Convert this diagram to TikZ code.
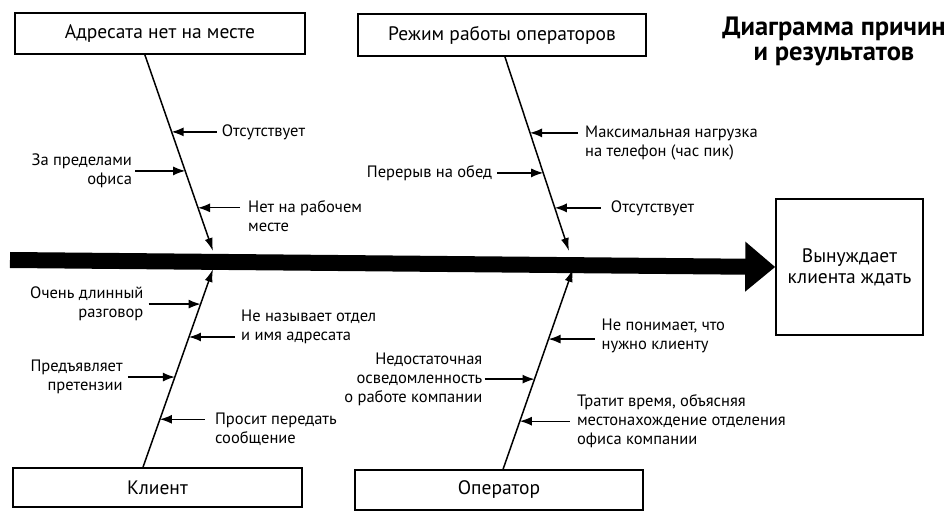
\documentclass[tikz,border=0pt]{standalone}
\usepackage{fontspec}
\setmainfont{PT Sans}
\usetikzlibrary{arrows.meta,calc}
\begin{document}
\begin{tikzpicture}[x=1pt,y=-1pt,
  catbox/.style={draw, line width=1.5pt, inner sep=0pt, font=\fontsize{19.5}{21}\selectfont},
  cause/.style={inner sep=0pt, font=\fontsize{16.5}{19}\selectfont},
  lcause/.style={cause, align=right},
  rcause/.style={cause, align=left},
  carrow/.style={line width=1.3pt, -{Latex[length=12pt,width=9pt]}},
  spine/.style={line width=1.5pt, -{Latex[length=13pt,width=8pt]}},
  mainbar/.style={line width=16pt, -{Triangle[length=30pt,width=48pt]}}]
\useasboundingbox[fill=white] (0,0) rectangle (951,513);

% title
\node[font=\bfseries\fontsize{26.5}{25}\selectfont, align=center] (title) at (834,41) {Диаграмма причин\\и результатов};

% category boxes
\node[catbox, minimum width=290pt, minimum height=41pt] (adr) at (160,33.5) {Адресата нет на месте};
\node[catbox, minimum width=288pt, minimum height=42pt] (rej) at (502,35) {Режим работы операторов};
\node[catbox, minimum width=289pt, minimum height=39pt] (kli) at (157.5,487.5) {Клиент};
\node[catbox, minimum width=288pt, minimum height=40pt] (opr) at (499,490) {Оператор};

% result box
\node[catbox, minimum width=147pt, minimum height=136pt, align=center] (res) at (849.5,267) {Вынуждает\\клиента ждать};

% main bar
\coordinate (barstart) at (10,260);
\draw[mainbar] (barstart) -- (res.west);

% spines
\coordinate (s1) at ($(adr.south west)!0.448!(adr.south east)$);
\coordinate (e1) at (213,251);
\coordinate (s2) at ($(rej.south west)!0.51!(rej.south east)$);
\coordinate (e2) at (569,251);
\coordinate (s3) at ($(kli.north west)!0.45!(kli.north east)$);
\coordinate (e3) at (213,269);
\coordinate (s4) at ($(opr.north west)!0.514!(opr.north east)$);
\coordinate (e4) at (573,269);
\draw[spine] (s1) -- (e1);
\draw[spine] (s2) -- (e2);
\draw[spine] (s3) -- (e3);
\draw[spine] (s4) -- (e4);

% --- causes of "Адресата нет на месте"
\coordinate (p11) at ($(s1)!0.393!(e1)$);
\coordinate (t11) at ([xshift=45pt]p11);
\draw[carrow] (t11) -- (p11);
\node[rcause, anchor=west] (c11) at ([xshift=5pt]t11) {Отсутствует};

\coordinate (p12) at ($(s1)!0.592!(e1)$);
\coordinate (t12) at ([xshift=-50pt]p12);
\draw[carrow] (t12) -- (p12);
\node[lcause, anchor=east] (c12) at ([xshift=-3pt]t12) {За пределами\\офиса};

\coordinate (p13) at ($(s1)!0.78!(e1)$);
\coordinate (t13) at ([xshift=42pt]p13);
\draw[carrow] (t13) -- (p13);
\node[rcause, anchor=north west] (c13) at ([xshift=8pt,yshift=7pt]t13) {Нет на рабочем\\месте};

% --- causes of "Режим работы операторов"
\coordinate (p21) at ($(s2)!0.392!(e2)$);
\coordinate (t21) at ([xshift=48pt]p21);
\draw[carrow] (t21) -- (p21);
\node[rcause, anchor=north west] (c21) at ([xshift=7pt,yshift=7pt]t21) {Максимальная нагрузка\\на телефон (час пик)};

\coordinate (p22) at ($(s2)!0.598!(e2)$);
\coordinate (t22) at ([xshift=-46pt]p22);
\draw[carrow] (t22) -- (p22);
\node[lcause, anchor=east] (c22) at ([xshift=-5pt]t22) {Перерыв на обед};

\coordinate (p23) at ($(s2)!0.778!(e2)$);
\coordinate (t23) at ([xshift=46pt]p23);
\draw[carrow] (t23) -- (p23);
\node[rcause, anchor=west] (c23) at ([xshift=10pt]t23) {Отсутствует};

% --- causes of "Клиент"
\coordinate (p31) at ($(s3)!0.823!(e3)$);
\coordinate (t31) at ([xshift=-52pt]p31);
\draw[carrow] (t31) -- (p31);
\node[lcause, anchor=east] (c31) at ([xshift=-5pt]t31) {Очень длинный\\разговор};

\coordinate (p32) at ($(s3)!0.657!(e3)$);
\coordinate (t32) at ([xshift=46pt]p32);
\draw[carrow] (t32) -- (p32);
\node[rcause, anchor=south west] (c32) at ([xshift=6pt,yshift=-7pt]t32) {Не называет отдел\\и имя адресата};

\coordinate (p33) at ($(s3)!0.455!(e3)$);
\coordinate (t33) at ([xshift=-47pt]p33);
\draw[carrow] (t33) -- (p33);
\node[lcause, anchor=east] (c33) at ([xshift=-5pt]t33) {Предъявляет\\претензии};

\coordinate (p34) at ($(s3)!0.242!(e3)$);
\coordinate (t34) at ([xshift=45pt]p34);
\draw[carrow] (t34) -- (p34);
\node[rcause, anchor=north west] (c34) at ([xshift=10pt,yshift=7pt]t34) {Просит передать\\сообщение};

% --- causes of "Оператор"
\coordinate (p41) at ($(s4)!0.65!(e4)$);
\coordinate (t41) at ([xshift=46pt]p41);
\draw[carrow] (t41) -- (p41);
\node[rcause, anchor=west] (c41) at ([xshift=7pt,yshift=3pt]t41) {Не понимает, что\\нужно клиенту};

\coordinate (p42) at ($(s4)!0.45!(e4)$);
\coordinate (t42) at ([xshift=-50pt]p42);
\draw[carrow] (t42) -- (p42);
\node[lcause, anchor=east] (c42) at ([xshift=-2pt]t42) {Недостаточная\\осведомленность\\о работе компании};

\coordinate (p43) at ($(s4)!0.24!(e4)$);
\coordinate (t43) at ([xshift=50pt]p43);
\draw[carrow] (t43) -- (p43);
\node[rcause, anchor=west] (c43) at ([xshift=7pt]t43) {Тратит время, объясняя\\местонахождение отделения\\офиса компании};
\end{tikzpicture}
\end{document}
